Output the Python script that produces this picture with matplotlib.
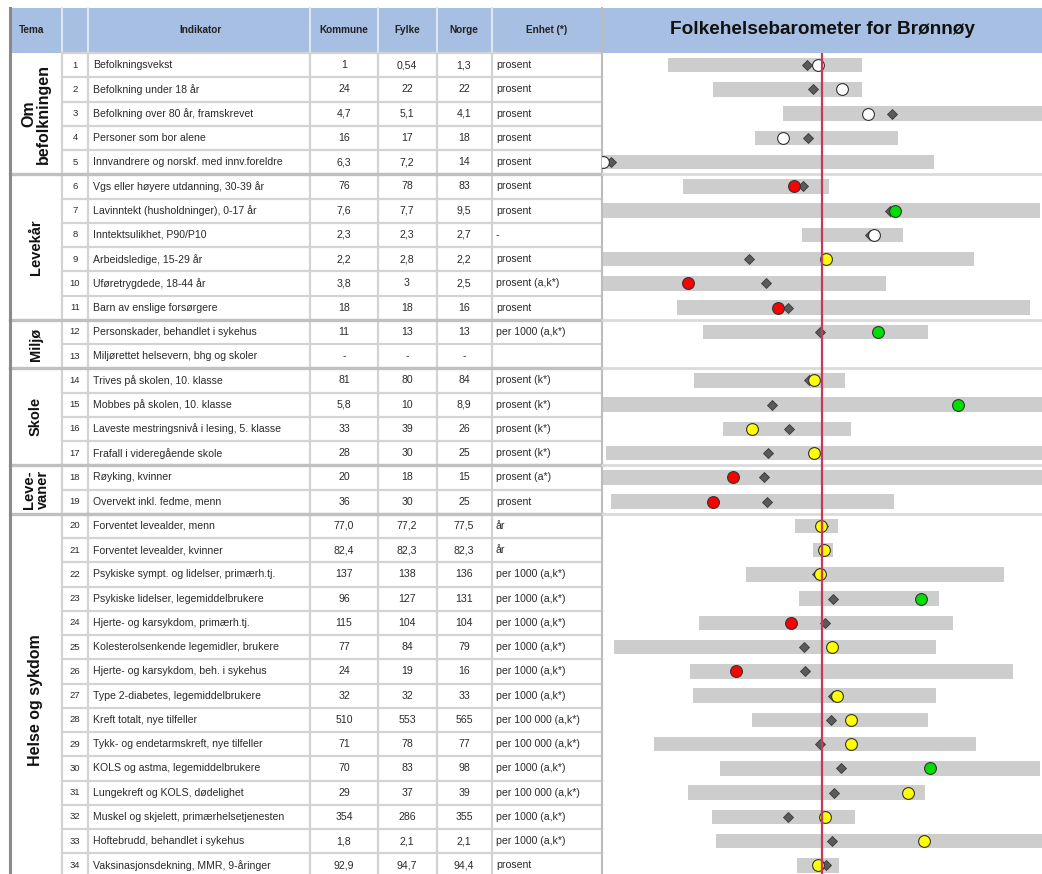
import matplotlib
matplotlib.use("Agg")
import matplotlib.pyplot as plt
from matplotlib.patches import Rectangle

plt.rcParams['font.family'] = ['Liberation Sans', 'DejaVu Sans']

# ---------------- data ----------------
indikator = [
    "Befolkningsvekst",
    "Befolkning under 18 år",
    "Befolkning over 80 år, framskrevet",
    "Personer som bor alene",
    "Innvandrere og norskf. med innv.foreldre",
    "Vgs eller høyere utdanning, 30-39 år",
    "Lavinntekt (husholdninger), 0-17 år",
    "Inntektsulikhet, P90/P10",
    "Arbeidsledige, 15-29 år",
    "Uføretrygdede, 18-44 år",
    "Barn av enslige forsørgere",
    "Personskader, behandlet i sykehus",
    "Miljørettet helsevern, bhg og skoler",
    "Trives på skolen, 10. klasse",
    "Mobbes på skolen, 10. klasse",
    "Laveste mestringsnivå i lesing, 5. klasse",
    "Frafall i videregående skole",
    "Røyking, kvinner",
    "Overvekt inkl. fedme, menn",
    "Forventet levealder, menn",
    "Forventet levealder, kvinner",
    "Psykiske sympt. og lidelser, primærh.tj.",
    "Psykiske lidelser, legemiddelbrukere",
    "Hjerte- og karsykdom, primærh.tj.",
    "Kolesterolsenkende legemidler, brukere",
    "Hjerte- og karsykdom, beh. i sykehus",
    "Type 2-diabetes, legemiddelbrukere",
    "Kreft totalt, nye tilfeller",
    "Tykk- og endetarmskreft, nye tilfeller",
    "KOLS og astma, legemiddelbrukere",
    "Lungekreft og KOLS, dødelighet",
    "Muskel og skjelett, primærhelsetjenesten",
    "Hoftebrudd, behandlet i sykehus",
    "Vaksinasjonsdekning, MMR, 9-åringer",
]
kommune = ["1", "24", "4,7", "16", "6,3", "76", "7,6", "2,3", "2,2", "3,8", "18",
           "11", "-", "81", "5,8", "33", "28", "20", "36", "77,0", "82,4", "137",
           "96", "115", "77", "24", "32", "510", "71", "70", "29", "354", "1,8", "92,9"]
fylke = ["0,54", "22", "5,1", "17", "7,2", "78", "7,7", "2,3", "2,8", "3", "18",
         "13", "-", "80", "10", "39", "30", "18", "30", "77,2", "82,3", "138",
         "127", "104", "84", "19", "32", "553", "78", "83", "37", "286", "2,1", "94,7"]
norge = ["1,3", "22", "4,1", "18", "14", "83", "9,5", "2,7", "2,2", "2,5", "16",
         "13", "-", "84", "8,9", "26", "25", "15", "25", "77,5", "82,3", "136",
         "131", "104", "79", "16", "33", "565", "77", "98", "39", "355", "2,1", "94,4"]
enhet = ["prosent", "prosent", "prosent", "prosent", "prosent", "prosent", "prosent",
         "-", "prosent", "prosent (a,k*)", "prosent", "per 1000 (a,k*)", "",
         "prosent (k*)", "prosent (k*)", "prosent (k*)", "prosent (k*)", "prosent (a*)",
         "prosent", "år", "år", "per 1000 (a,k*)", "per 1000 (a,k*)", "per 1000 (a,k*)",
         "per 1000 (a,k*)", "per 1000 (a,k*)", "per 1000 (a,k*)", "per 100 000 (a,k*)",
         "per 100 000 (a,k*)", "per 1000 (a,k*)", "per 100 000 (a,k*)", "per 1000 (a,k*)",
         "per 1000 (a,k*)", "prosent"]

tema_names = ["Om\nbefolkningen", "Levekår", "Miljø", "Skole", "Leve-\nvaner", "Helse og sykdom"]
tema_first = [1, 6, 12, 14, 18, 20]
tema_last = [5, 11, 13, 17, 19, 34]

# barometer values: standardised scale, Norway = 0 (None = no data)
bar_min = [-70, -49.5, -17.7, -30.5, -99.5, -63, -99.5, -9, -99.5, -99.5, -66,
           -54, None, -58, -99.5, -45, -98, -99.5, -96, -12.3, -4, -34.5,
           -10.5, -56, -94.5, -60, -58.6, -32, -76.4, -46.4, -61, -50, -48, -11.4]
bar_max = [18, 18, 100, 34.5, 51, 3, 99, 37, 69, 29, 94.5,
           48, None, 10.5, 100, 13, 100, 100, 32.7, 7.3, 5, 82.7,
           53, 59.5, 52, 87, 52, 48, 70, 99, 47, 15, 100, 7.7]
fylke_val = [-7, -4, 32, -6.4, -96, -8.6, 31, 22, -33, -25.5, -15.5,
             -1, None, -6, -22.7, -15, -24.5, -26.4, -25, 0.5, 1, -2.3,
             5, 1.4, -8.2, -7.7, 5, 4, -1, 8.6, 5.5, -15.5, 4.5, 1.8]
kommune_val = [-2, 9, 21, -17.7, -99.5, -12.7, 33, 23.6, 2, -61, -20,
               25.5, None, -3.6, 62, -32, -3.6, -40.5, -49.5, -0.5, 1, -1,
               45, -14, 4.5, -39, 7, 13, 13, 49, 39, 1.4, 46.4, -1.8]
kommune_col = ["white", "white", "white", "white", "white", "red", "green", "white",
               "yellow", "red", "red", "green", None, "yellow", "green", "yellow",
               "yellow", "red", "red", "yellow", "yellow", "yellow", "green", "red",
               "yellow", "red", "yellow", "yellow", "yellow", "green", "yellow",
               "yellow", "yellow", "yellow"]
color_map = {"white": "#ffffff", "red": "#ff0000", "green": "#00e000", "yellow": "#ffff00"}

# ---------------- layout ----------------
W, H = 1042, 874
fig = plt.figure(figsize=(W / 100, H / 100), dpi=100)
tab = fig.add_axes([0, 0, 1, 1])
tab.set_xlim(0, W)
tab.set_ylim(H, 0)
tab.axis('off')

top_hdr, bot_hdr = 8, 52.5
row_h = 24.25
y0 = 53


def row_y(i):
    return y0 + row_h * (i - 0.5)


col_x = [10, 62, 88, 310, 378, 437, 492, 602]
hdr_blue = "#a7bfe3"
grid_c = "#d3d3d3"
txt_c = "#2a2a2a"
fs_row = 7.6

# header
tab.add_patch(Rectangle((10, top_hdr), W - 10, bot_hdr - top_hdr, facecolor=hdr_blue,
                        edgecolor='none', zorder=1))
for x in col_x[1:-1]:
    tab.plot([x, x], [top_hdr, bot_hdr], color="#dfe7f3", lw=1.5, zorder=2)
tab.plot([602, 602], [top_hdr, H], color="#bcbcbc", lw=1.5, zorder=3)
hdr_txt = [("Tema", 32), ("Indikator", 201), ("Kommune", 344), ("Fylke", 407),
           ("Norge", 464), ("Enhet (*)", 547)]
for t, x in hdr_txt:
    tab.text(x, (top_hdr + bot_hdr) / 2, t, ha='center', va='center', fontsize=7.2,
             fontweight='bold', color='#222222', zorder=4)
tab.text(822, (top_hdr + bot_hdr) / 2 - 1, "Folkehelsebarometer for Brønnøy", ha='center',
         va='center', fontsize=13.7, fontweight='bold', color='#111111', zorder=4)

# grid lines
n = len(indikator)
for k in range(n + 1):
    yb = y0 + row_h * k
    tab.plot([62, 602], [yb, yb], color=grid_c, lw=1.6, zorder=2)
for x in col_x[1:-1]:
    tab.plot([x, x], [bot_hdr, H], color=grid_c, lw=1.6, zorder=2)
for last in tema_last[:-1]:
    yb = y0 + row_h * last
    tab.plot([10, 602], [yb, yb], color="#c0c0c0", lw=2.4, zorder=3)
tab.plot([10, 10], [top_hdr, H], color="#8a8a8a", lw=2.2, zorder=3)

# row text
for i in range(n):
    y = row_y(i + 1)
    tab.text(75, y, str(i + 1), ha='center', va='center', fontsize=6.8, color=txt_c)
    tab.text(93, y, indikator[i], ha='left', va='center', fontsize=fs_row, color=txt_c)
    tab.text(344, y, kommune[i], ha='center', va='center', fontsize=fs_row, color=txt_c)
    tab.text(407, y, fylke[i], ha='center', va='center', fontsize=fs_row, color=txt_c)
    tab.text(464, y, norge[i], ha='center', va='center', fontsize=fs_row, color=txt_c)
    tab.text(496, y, enhet[i], ha='left', va='center', fontsize=fs_row, color=txt_c)

# tema labels
for name, a, b in zip(tema_names, tema_first, tema_last):
    yc = (row_y(a) + row_y(b)) / 2
    fs = 10.5
    if name.startswith("Helse"):
        yc = 700
        fs = 11.5
    if name.startswith("Om"):
        fs = 11.5
    tab.text(36, yc, name, ha='center', va='center', rotation=90, fontsize=fs,
             fontweight='bold', color='#111111', linespacing=1.0)

# ---------------- barometer chart ----------------
ax = fig.add_axes([602 / W, 0, 440 / W, (H - y0) / H])
ax.set_xlim(-100, 100)
ax.set_ylim(0.5 + (H - y0) / row_h, 0.5)
ax.axis('off')

rows = list(range(1, n + 1))
for r, lo, hi in zip(rows, bar_min, bar_max):
    if lo is None:
        continue
    ax.barh(r, hi - lo, left=lo, height=0.6, color="#cdcdcd", edgecolor='none', zorder=1)

for last in tema_last[:-1]:
    ax.axhline(last + 0.5, color="#dadada", lw=2, zorder=0.5)

for r, fv, kv, kc in zip(rows, fylke_val, kommune_val, kommune_col):
    if fv is None:
        continue
    ax.plot(fv, r, marker='D', ms=5, color="#5a5a5a", mec="#3a3a3a", mew=0.6,
            zorder=3, clip_on=True)
    ax.plot(kv, r, marker='o', ms=8.5, color=color_map[kc], mec="#333333", mew=0.8,
            zorder=4, clip_on=True)

ax.axvline(0, color="#c8385a", lw=1.6, zorder=5)

fig.savefig("out.png", dpi=100)
